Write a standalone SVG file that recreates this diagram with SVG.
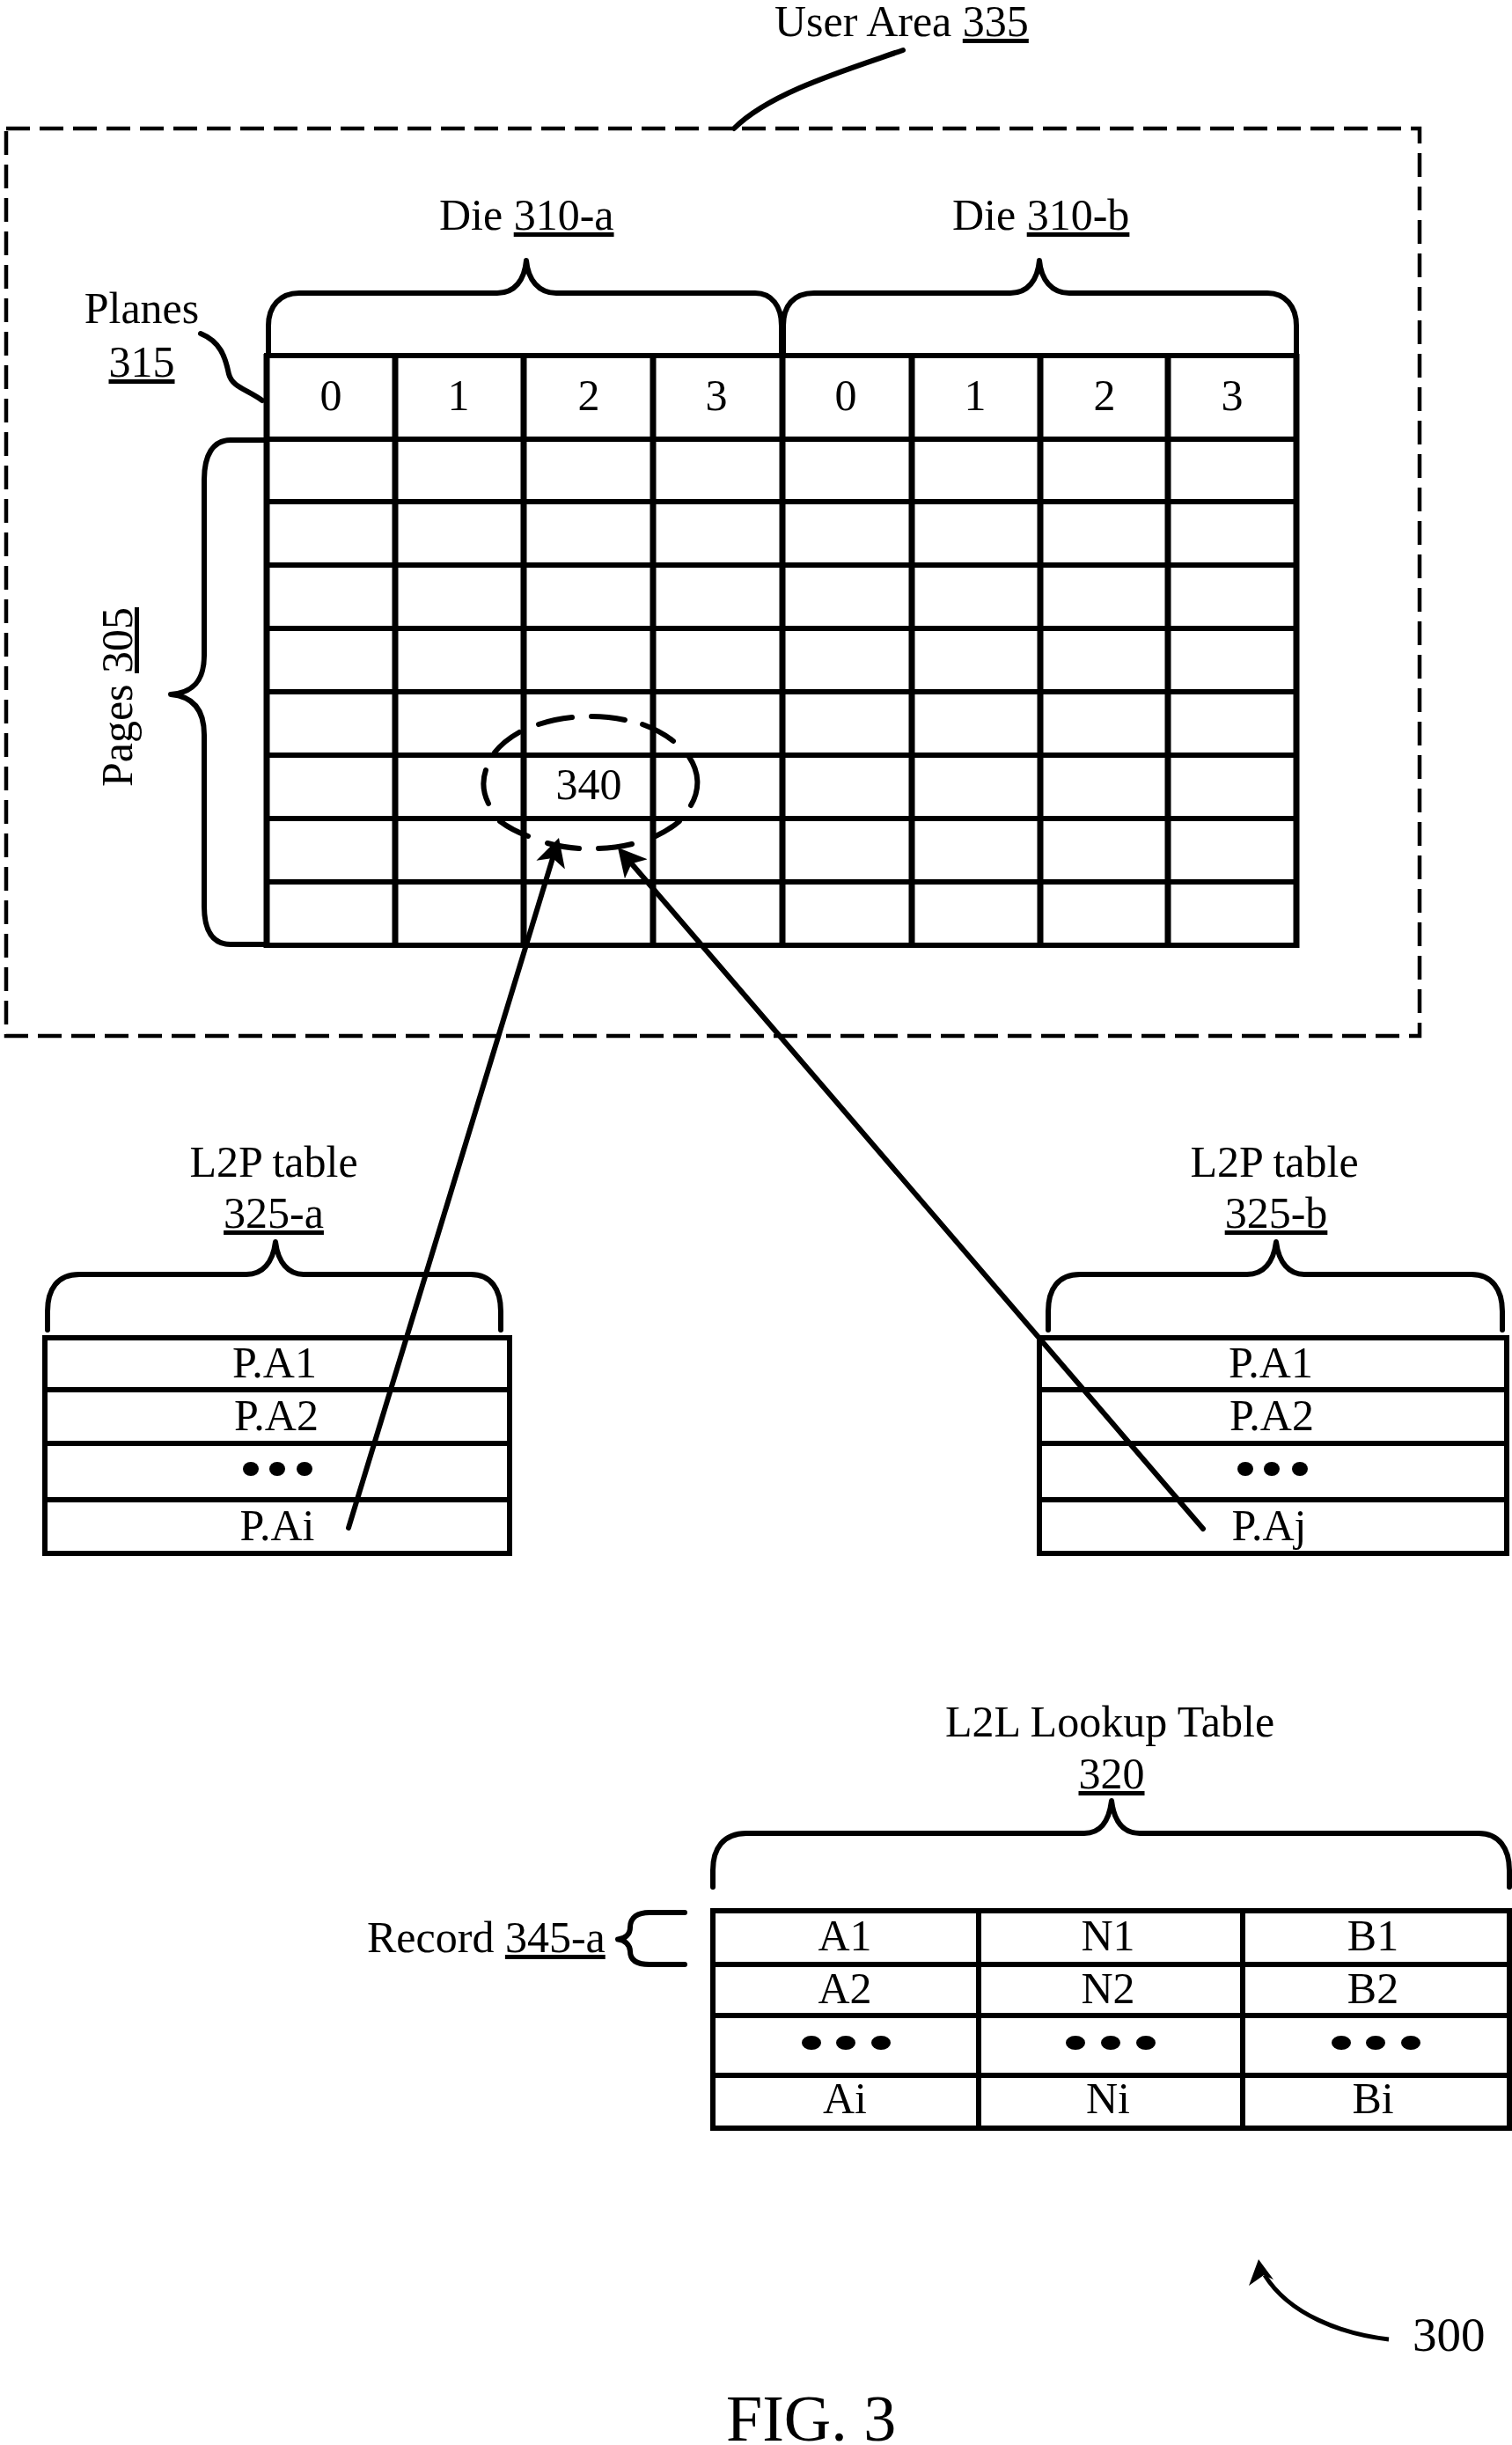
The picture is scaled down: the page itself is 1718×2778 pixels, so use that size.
<svg xmlns="http://www.w3.org/2000/svg" width="1718" height="2778" viewBox="0 0 1718 2778">
<style>
text{font-family:"Liberation Serif","Times New Roman",serif;font-size:50px;fill:#000}
.m{text-anchor:middle}
.u{text-decoration:underline}
.l{fill:none;stroke:#000;stroke-width:6;stroke-linecap:round;stroke-linejoin:round}
.g{fill:none;stroke:#000;stroke-width:6}
.v{fill:none;stroke:#000;stroke-width:7}
.t{fill:none;stroke:#000;stroke-width:6;stroke-linecap:square}
.a{fill:none;stroke:#000;stroke-width:5}
.d{fill:#000}
</style>
<defs>
<marker id="head" markerUnits="userSpaceOnUse" viewBox="0 0 32 34" refX="8" refY="17" markerWidth="32" markerHeight="34" orient="auto"><polygon points="0,0 32,17 0,34 8,17"/></marker>
</defs>
<rect width="1718" height="2778" fill="#fff"/>
<g id="user-area">
<rect x="7" y="146" width="1606" height="1031" fill="none" stroke="#000" stroke-width="4.500" stroke-dasharray="27 11"/>
<text x="880" y="41">User Area <tspan class="u">335</tspan></text>
</g>
<g id="die-a">
<path class="l" d="M305,404 V370 C305,348 318,333 340,333 H565 C585,333 596,318 598,296 C600,318 612,333 632,333 H858 C877,333 888,348 888,370 V404"/>
<text x="499" y="261">Die <tspan class="u">310-a</tspan></text>
</g>
<g id="die-b">
<path class="l" d="M890,404 V370 C890,348 901,333 925,333 H1148 C1168,333 1179,318 1181,296 C1183,318 1195,333 1215,333 H1440 C1460,333 1473,348 1473,370 V404"/>
<text x="1082" y="261">Die <tspan class="u">310-b</tspan></text>
</g>
<g id="planes">
<text class="m" x="161" y="367">Planes</text>
<text class="m u" x="161" y="428">315</text>
<path class="l" d="M228,379 C250,388 256,405 260,425 C264,440 280,442 298,455"/>
</g>
<g id="pages">
<path class="l" d="M303,500 H262 C242,500 232,517 232,545 V745 C232,775 218,787 194,789 C218,791 232,805 232,835 V1030 C232,1058 242,1073 262,1073 H303"/>
<text class="m" transform="translate(150,792) rotate(-90)" x="0" y="0">Pages <tspan class="u">305</tspan></text>
</g>
<g id="grid">
<path class="g" d="M300,404 H1476 M300,499 H1476 M300,570 H1476 M300,642 H1476 M300,714 H1476 M300,786 H1476 M300,858 H1476 M300,930 H1476 M300,1002 H1476 M300,1074 H1476"/>
<path class="v" d="M303,402 V1077 M449,402 V1077 M595,402 V1077 M742,402 V1077 M889,402 V1077 M1036,402 V1077 M1182,402 V1077 M1327,402 V1077 M1473,402 V1077"/>
<text class="m" x="376" y="466">0</text><text class="m" x="521" y="466">1</text><text class="m" x="669" y="466">2</text><text class="m" x="814" y="466">3</text>
<text class="m" x="961" y="466">0</text><text class="m" x="1108" y="466">1</text><text class="m" x="1255" y="466">2</text><text class="m" x="1400" y="466">3</text>
</g>
<g id="region-340">
<path class="l" d="M612,823 A123,76 0 0 1 650,815 M672,814 A123,76 0 0 1 710,818 M730,823 A123,76 0 0 1 765,842 M783,860 A123,76 0 0 1 785,915 M772,933 A123,76 0 0 1 745,950 M718,959 A123,76 0 0 1 680,964 M658,964 A123,76 0 0 1 622,958 M600,950 A123,76 0 0 1 568,933 M555,913 A123,76 0 0 1 552,875 M562,855 A123,76 0 0 1 590,832"/>
<text class="m" x="669" y="908">340</text>
</g>
<g id="l2p-a">
<path class="l" d="M54,1511 V1490 C54,1465 65,1448 90,1448 H280 C298,1448 310,1435 313,1411 C316,1435 328,1448 345,1448 H535 C558,1448 569,1465 569,1490 V1511"/>
<path class="t" d="M51,1520 H579 V1765 H51 Z M51,1579 H579 M51,1640 H579 M51,1704 H579"/>
<text class="m" x="311" y="1337">L2P table</text>
<text class="m u" x="311" y="1395">325-a</text>
<text class="m" x="312" y="1565">P.A1</text><text class="m" x="314" y="1625">P.A2</text>
<ellipse class="d" cx="285" cy="1669" rx="9" ry="8"/><ellipse class="d" cx="315" cy="1669" rx="9" ry="8"/><ellipse class="d" cx="346" cy="1669" rx="9" ry="8"/>
<text class="m" x="315" y="1750">P.Ai</text>
</g>
<g id="l2p-b">
<path class="l" d="M1191,1511 V1490 C1191,1465 1202,1448 1227,1448 H1417 C1435,1448 1447,1435 1450,1411 C1453,1435 1465,1448 1482,1448 H1672 C1695,1448 1707,1465 1707,1490 V1511"/>
<path class="t" d="M1181,1520 H1712 V1765 H1181 Z M1181,1579 H1712 M1181,1640 H1712 M1181,1704 H1712"/>
<text class="m" x="1448" y="1337">L2P table</text>
<text class="m u" x="1450" y="1395">325-b</text>
<text class="m" x="1444" y="1565">P.A1</text><text class="m" x="1445" y="1625">P.A2</text>
<ellipse class="d" cx="1415" cy="1669" rx="9" ry="8"/><ellipse class="d" cx="1445" cy="1669" rx="9" ry="8"/><ellipse class="d" cx="1477" cy="1669" rx="9" ry="8"/>
<text class="m" x="1442" y="1750">P.Aj</text>
</g>
<g id="l2l-table">
<path class="l" d="M810,2144 V2125 C810,2100 822,2083 848,2083 H1232 C1250,2083 1260,2070 1263,2046 C1266,2070 1276,2083 1295,2083 H1680 C1703,2083 1715,2100 1715,2125 V2144"/>
<path class="t" d="M810,2171 H1715 V2418 H810 Z M810,2232 H1715 M810,2290 H1715 M810,2358 H1715 M1112,2171 V2418 M1412,2171 V2418"/>
<text class="m" x="1261" y="1973">L2L Lookup Table</text>
<text class="m u" x="1263" y="2032">320</text>
<text class="m" x="960" y="2216">A1</text><text class="m" x="1259" y="2216">N1</text><text class="m" x="1560" y="2216">B1</text>
<text class="m" x="960" y="2276">A2</text><text class="m" x="1259" y="2276">N2</text><text class="m" x="1560" y="2276">B2</text>
<ellipse class="d" cx="922" cy="2321" rx="11" ry="8"/><ellipse class="d" cx="961" cy="2321" rx="11" ry="8"/><ellipse class="d" cx="1001" cy="2321" rx="11" ry="8"/>
<ellipse class="d" cx="1222" cy="2321" rx="11" ry="8"/><ellipse class="d" cx="1262" cy="2321" rx="11" ry="8"/><ellipse class="d" cx="1302" cy="2321" rx="11" ry="8"/>
<ellipse class="d" cx="1524" cy="2321" rx="11" ry="8"/><ellipse class="d" cx="1563" cy="2321" rx="11" ry="8"/><ellipse class="d" cx="1603" cy="2321" rx="11" ry="8"/>
<text class="m" x="960" y="2401">Ai</text><text class="m" x="1259" y="2401">Ni</text><text class="m" x="1560" y="2401">Bi</text>
</g>
<g id="record">
<text x="417" y="2218">Record <tspan class="u">345-a</tspan></text>
<path class="l" d="M778,2173 H738 C725,2173 716,2178 716,2190 C716,2198 710,2203 702,2203.500 C710,2204 716,2210 716,2217 C716,2228 725,2232 738,2232 H778"/>
</g>
<g id="ref-300">
<text x="1605" y="2671" style="font-size:55px">300</text>
<path class="a" d="M1578,2658 C1525,2652 1465,2630 1437,2585"/>
<polygon points="1430,2567 1447,2590 1436,2585 1419,2597"/>
</g>
<text id="fig-label" x="825" y="2773" style="font-size:74px">FIG. 3</text>
<g id="connectors">
<path class="l" d="M396,1736 L628,975" marker-end="url(#head)"/>
<path class="l" d="M1367,1737 L717.600,981.200" marker-end="url(#head)"/>
<path class="l" d="M834,146 C875,105 960,80 1026,57"/>
</g>
</svg>
